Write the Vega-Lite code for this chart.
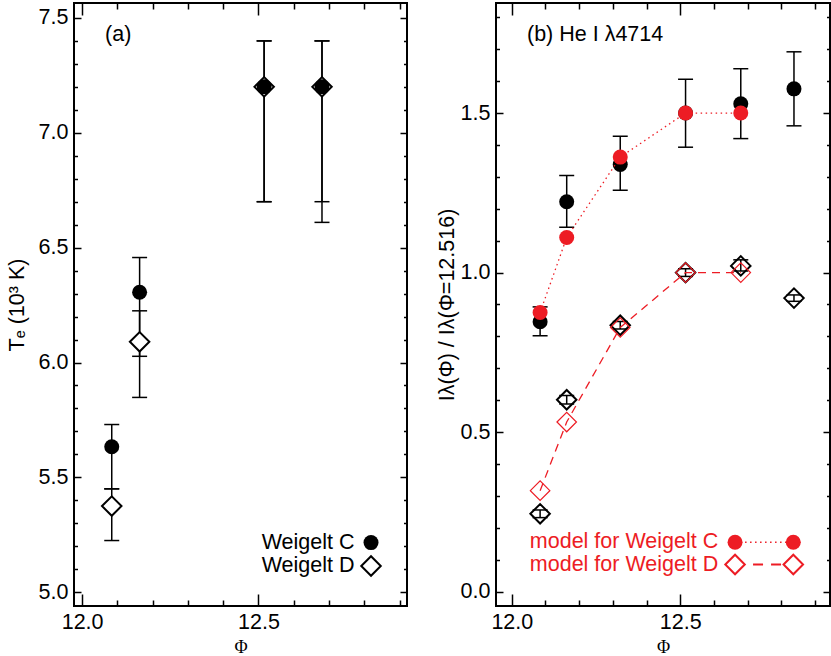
{
  "$schema": "https://vega.github.io/schema/vega-lite/v6.json",
  "padding": {"left": 5, "top": 1, "right": 0, "bottom": 0},
  "background": "white",
  "spacing": 26,
  "datasets": {
    "aobs": [
      {"phi": 12.084, "series": "C", "val": 5.633, "lo": 5.45, "hi": 5.73},
      {"phi": 12.084, "series": "D", "val": 5.375, "lo": 5.225, "hi": 5.45},
      {"phi": 12.163, "series": "C", "val": 6.306, "lo": 6.027, "hi": 6.457},
      {"phi": 12.163, "series": "D", "val": 6.09, "lo": 5.848, "hi": 6.225},
      {"phi": 12.516, "series": "C", "val": 7.2, "lo": 6.7, "hi": 7.4},
      {"phi": 12.516, "series": "D", "val": 7.2, "lo": 6.7, "hi": 7.4},
      {"phi": 12.68, "series": "C", "val": 7.2, "lo": 6.7, "hi": 7.4},
      {"phi": 12.68, "series": "D", "val": 7.2, "lo": 6.61, "hi": 7.4}
    ],
    "bobs": [
      {"phi": 12.084, "series": "C", "val": 0.846, "lo": 0.802, "hi": 0.8925},
      {"phi": 12.163, "series": "C", "val": 1.222, "lo": 1.142, "hi": 1.304},
      {"phi": 12.322, "series": "C", "val": 1.339, "lo": 1.258, "hi": 1.427},
      {"phi": 12.516, "series": "C", "val": 1.5, "lo": 1.393, "hi": 1.606},
      {"phi": 12.68, "series": "C", "val": 1.529, "lo": 1.42, "hi": 1.639},
      {"phi": 12.838, "series": "C", "val": 1.576, "lo": 1.46, "hi": 1.692},
      {"phi": 12.084, "series": "D", "val": 0.244, "lo": 0.232, "hi": 0.256},
      {"phi": 12.163, "series": "D", "val": 0.6015, "lo": 0.588, "hi": 0.615},
      {"phi": 12.322, "series": "D", "val": 0.835, "lo": 0.823, "hi": 0.847},
      {"phi": 12.516, "series": "D", "val": 1.0, "lo": 0.988, "hi": 1.012},
      {"phi": 12.68, "series": "D", "val": 1.021, "lo": 1.005, "hi": 1.04},
      {"phi": 12.838, "series": "D", "val": 0.92, "lo": 0.91, "hi": 0.93}
    ],
    "bmod": [
      {"phi": 12.084, "series": "C", "val": 0.875},
      {"phi": 12.163, "series": "C", "val": 1.11},
      {"phi": 12.322, "series": "C", "val": 1.362},
      {"phi": 12.516, "series": "C", "val": 1.5},
      {"phi": 12.68, "series": "C", "val": 1.5},
      {"phi": 12.084, "series": "D", "val": 0.3165},
      {"phi": 12.163, "series": "D", "val": 0.5316},
      {"phi": 12.322, "series": "D", "val": 0.828},
      {"phi": 12.516, "series": "D", "val": 1.0},
      {"phi": 12.68, "series": "D", "val": 1.0}
    ],
    "one": [{}]
  },
  "hconcat": [
    {
      "width": 333,
      "height": 603,
      "layer": [
        {
          "data": {"name": "aobs"},
          "mark": {"type": "rule", "color": "black", "strokeWidth": 1.5},
          "encoding": {
            "x": {"field": "phi", "type": "quantitative", "scale": {"domain": [11.977, 12.921], "nice": false, "zero": false},
              "axis": {"orient": "bottom", "values": [12.0, 12.1, 12.2, 12.3, 12.4, 12.5, 12.6, 12.7, 12.8, 12.9],
                "tickSize": {"condition": {"test": "abs(datum.value*2-round(datum.value*2))<1e-6", "value": -12}, "value": -6},
                "labelExpr": "abs(datum.value*2-round(datum.value*2))<1e-6 ? format(datum.value,'.1f') : ''",
                "labelPadding": 17, "title": "Φ", "titleFont": "Liberation Serif", "titleFontSize": 18, "titlePadding": 0}},
            "y": {"field": "lo", "type": "quantitative", "scale": {"domain": [4.94, 7.565], "nice": false, "zero": false},
              "axis": {"orient": "left", "values": [5.0, 5.1, 5.2, 5.3, 5.4, 5.5, 5.6, 5.7, 5.8, 5.9, 6.0, 6.1, 6.2, 6.3, 6.4, 6.5, 6.6, 6.7, 6.8, 6.9, 7.0, 7.1, 7.2, 7.3, 7.4, 7.5],
                "tickSize": {"condition": {"test": "abs(datum.value*2-round(datum.value*2))<1e-6", "value": -7}, "value": -3.5},
                "labelExpr": "abs(datum.value*2-round(datum.value*2))<1e-6 ? format(datum.value,'.1f') : ''",
                "labelPadding": 13, "title": "Tₑ (10³ K)", "titlePadding": 10}},
            "y2": {"field": "hi"}
          }
        },
        {
          "data": {"name": "aobs"},
          "mark": {"type": "tick", "orient": "horizontal", "color": "black", "size": 15, "thickness": 1.5, "opacity": 1},
          "encoding": {
            "x": {"field": "phi", "type": "quantitative",
              "axis": {"orient": "top", "values": [12.0, 12.1, 12.2, 12.3, 12.4, 12.5, 12.6, 12.7, 12.8, 12.9],
                "tickSize": {"condition": {"test": "abs(datum.value*2-round(datum.value*2))<1e-6", "value": -12}, "value": -6},
                "labels": false, "title": null}},
            "y": {"field": "lo", "type": "quantitative",
              "axis": {"orient": "right", "values": [5.0, 5.1, 5.2, 5.3, 5.4, 5.5, 5.6, 5.7, 5.8, 5.9, 6.0, 6.1, 6.2, 6.3, 6.4, 6.5, 6.6, 6.7, 6.8, 6.9, 7.0, 7.1, 7.2, 7.3, 7.4, 7.5],
                "tickSize": {"condition": {"test": "abs(datum.value*2-round(datum.value*2))<1e-6", "value": -7}, "value": -3.5},
                "labels": false, "title": null}}
          }
        },
        {
          "data": {"name": "aobs"},
          "mark": {"type": "tick", "orient": "horizontal", "color": "black", "size": 15, "thickness": 1.5, "opacity": 1},
          "encoding": {
            "x": {"field": "phi", "type": "quantitative", "axis": null},
            "y": {"field": "hi", "type": "quantitative", "axis": null}
          }
        },
        {
          "data": {"name": "aobs"},
          "transform": [{"filter": "datum.series === 'D'"}],
          "mark": {"type": "point", "shape": "diamond", "size": 380, "filled": true, "fill": "white", "stroke": "black", "strokeWidth": 2, "opacity": 1},
          "encoding": {
            "x": {"field": "phi", "type": "quantitative", "axis": null},
            "y": {"field": "val", "type": "quantitative", "axis": null}
          }
        },
        {
          "data": {"name": "aobs"},
          "transform": [{"filter": "datum.series === 'C'"}],
          "mark": {"type": "point", "shape": "circle", "size": 225, "filled": true, "color": "black", "opacity": 1},
          "encoding": {
            "x": {"field": "phi", "type": "quantitative", "axis": null},
            "y": {"field": "val", "type": "quantitative", "axis": null}
          }
        },
        {
          "data": {"name": "one"},
          "mark": {"type": "text", "align": "left", "baseline": "middle", "fontSize": 21.5, "font": "Liberation Sans", "color": "black"},
          "encoding": {
            "x": {"datum": 12.065, "type": "quantitative", "axis": null},
            "y": {"datum": 7.426, "type": "quantitative", "axis": null},
            "text": {"value": "(a)"}
          }
        },
        {
          "data": {"name": "one"},
          "mark": {"type": "text", "align": "right", "baseline": "middle", "fontSize": 21.5, "font": "Liberation Sans", "color": "black"},
          "encoding": {
            "x": {"datum": 12.772, "type": "quantitative", "axis": null},
            "y": {"datum": 5.216, "type": "quantitative", "axis": null},
            "text": {"value": "Weigelt C"}
          }
        },
        {
          "data": {"name": "one"},
          "mark": {"type": "text", "align": "right", "baseline": "middle", "fontSize": 21.5, "font": "Liberation Sans", "color": "black"},
          "encoding": {
            "x": {"datum": 12.772, "type": "quantitative", "axis": null},
            "y": {"datum": 5.114, "type": "quantitative", "axis": null},
            "text": {"value": "Weigelt D"}
          }
        },
        {
          "data": {"name": "one"},
          "mark": {"type": "point", "shape": "circle", "size": 225, "filled": true, "color": "black", "opacity": 1},
          "encoding": {
            "x": {"datum": 12.819, "type": "quantitative", "axis": null},
            "y": {"datum": 5.216, "type": "quantitative", "axis": null}
          }
        },
        {
          "data": {"name": "one"},
          "mark": {"type": "point", "shape": "diamond", "size": 380, "filled": true, "fill": "white", "stroke": "black", "strokeWidth": 2, "opacity": 1},
          "encoding": {
            "x": {"datum": 12.819, "type": "quantitative", "axis": null},
            "y": {"datum": 5.114, "type": "quantitative", "axis": null}
          }
        }
      ]
    },
    {
      "width": 334,
      "height": 603,
      "layer": [
        {
          "data": {"name": "bobs"},
          "mark": {"type": "rule", "color": "black", "strokeWidth": 1.5},
          "encoding": {
            "x": {"field": "phi", "type": "quantitative", "scale": {"domain": [11.953, 12.945], "nice": false, "zero": false},
              "axis": {"orient": "bottom", "values": [12.0, 12.1, 12.2, 12.3, 12.4, 12.5, 12.6, 12.7, 12.8, 12.9],
                "tickSize": {"condition": {"test": "abs(datum.value*2-round(datum.value*2))<1e-6", "value": -12}, "value": -6},
                "labelExpr": "abs(datum.value*2-round(datum.value*2))<1e-6 ? format(datum.value,'.1f') : ''",
                "labelPadding": 17, "title": "Φ", "titleFont": "Liberation Serif", "titleFontSize": 18, "titlePadding": 0}},
            "y": {"field": "lo", "type": "quantitative", "scale": {"domain": [-0.045, 1.845], "nice": false, "zero": false},
              "axis": {"orient": "left", "values": [0.0, 0.1, 0.2, 0.3, 0.4, 0.5, 0.6, 0.7, 0.8, 0.9, 1.0, 1.1, 1.2, 1.3, 1.4, 1.5, 1.6, 1.7, 1.8],
                "tickSize": {"condition": {"test": "abs(datum.value*2-round(datum.value*2))<1e-6", "value": -7}, "value": -3.5},
                "labelExpr": "abs(datum.value*2-round(datum.value*2))<1e-6 ? format(datum.value,'.1f') : ''",
                "labelPadding": 13, "title": "Iλ(Φ) / Iλ(Φ=12.516)", "titlePadding": 2}},
            "y2": {"field": "hi"}
          }
        },
        {
          "data": {"name": "bobs"},
          "mark": {"type": "tick", "orient": "horizontal", "color": "black", "size": 15, "thickness": 1.5, "opacity": 1},
          "encoding": {
            "x": {"field": "phi", "type": "quantitative",
              "axis": {"orient": "top", "values": [12.0, 12.1, 12.2, 12.3, 12.4, 12.5, 12.6, 12.7, 12.8, 12.9],
                "tickSize": {"condition": {"test": "abs(datum.value*2-round(datum.value*2))<1e-6", "value": -12}, "value": -6},
                "labels": false, "title": null}},
            "y": {"field": "lo", "type": "quantitative",
              "axis": {"orient": "right", "values": [0.0, 0.1, 0.2, 0.3, 0.4, 0.5, 0.6, 0.7, 0.8, 0.9, 1.0, 1.1, 1.2, 1.3, 1.4, 1.5, 1.6, 1.7, 1.8],
                "tickSize": {"condition": {"test": "abs(datum.value*2-round(datum.value*2))<1e-6", "value": -7}, "value": -3.5},
                "labels": false, "title": null}}
          }
        },
        {
          "data": {"name": "bobs"},
          "mark": {"type": "tick", "orient": "horizontal", "color": "black", "size": 15, "thickness": 1.5, "opacity": 1},
          "encoding": {
            "x": {"field": "phi", "type": "quantitative", "axis": null},
            "y": {"field": "hi", "type": "quantitative", "axis": null}
          }
        },
        {
          "data": {"name": "bobs"},
          "transform": [{"filter": "datum.series === 'C'"}],
          "mark": {"type": "point", "shape": "circle", "size": 225, "filled": true, "color": "black", "opacity": 1},
          "encoding": {
            "x": {"field": "phi", "type": "quantitative", "axis": null},
            "y": {"field": "val", "type": "quantitative", "axis": null}
          }
        },
        {
          "data": {"name": "bobs"},
          "transform": [{"filter": "datum.series === 'D'"}],
          "mark": {"type": "point", "shape": "diamond", "size": 380, "filled": false, "stroke": "black", "strokeWidth": 2, "opacity": 1},
          "encoding": {
            "x": {"field": "phi", "type": "quantitative", "axis": null},
            "y": {"field": "val", "type": "quantitative", "axis": null}
          }
        },
        {
          "data": {"name": "bmod"},
          "transform": [{"filter": "datum.series === 'C'"}],
          "mark": {"type": "line", "color": "#ed1c24", "strokeWidth": 1.3, "strokeDash": [1.5, 3.5]},
          "encoding": {
            "x": {"field": "phi", "type": "quantitative", "axis": null},
            "y": {"field": "val", "type": "quantitative", "axis": null}
          }
        },
        {
          "data": {"name": "bmod"},
          "transform": [{"filter": "datum.series === 'D'"}],
          "mark": {"type": "line", "color": "#ed1c24", "strokeWidth": 1.3, "strokeDash": [8, 6]},
          "encoding": {
            "x": {"field": "phi", "type": "quantitative", "axis": null},
            "y": {"field": "val", "type": "quantitative", "axis": null}
          }
        },
        {
          "data": {"name": "bmod"},
          "transform": [{"filter": "datum.series === 'C'"}],
          "mark": {"type": "point", "shape": "circle", "size": 225, "filled": true, "color": "#ed1c24", "opacity": 1},
          "encoding": {
            "x": {"field": "phi", "type": "quantitative", "axis": null},
            "y": {"field": "val", "type": "quantitative", "axis": null}
          }
        },
        {
          "data": {"name": "bmod"},
          "transform": [{"filter": "datum.series === 'D'"}],
          "mark": {"type": "point", "shape": "diamond", "size": 380, "filled": false, "stroke": "#ed1c24", "strokeWidth": 1.2, "opacity": 1},
          "encoding": {
            "x": {"field": "phi", "type": "quantitative", "axis": null},
            "y": {"field": "val", "type": "quantitative", "axis": null}
          }
        },
        {
          "data": {"name": "one"},
          "mark": {"type": "text", "align": "left", "baseline": "middle", "fontSize": 21.5, "font": "Liberation Sans", "color": "black"},
          "encoding": {
            "x": {"datum": 12.045, "type": "quantitative", "axis": null},
            "y": {"datum": 1.744, "type": "quantitative", "axis": null},
            "text": {"value": "(b) He I λ4714"}
          }
        },
        {
          "data": {"name": "one"},
          "mark": {"type": "rule", "color": "#ed1c24", "strokeWidth": 1.5, "strokeDash": [1.5, 3.5]},
          "encoding": {
            "x": {"datum": 12.663, "type": "quantitative", "axis": null},
            "x2": {"datum": 12.836},
            "y": {"datum": 0.155, "type": "quantitative", "axis": null}
          }
        },
        {
          "data": {"name": "one"},
          "mark": {"type": "rule", "color": "#ed1c24", "strokeWidth": 2, "strokeDash": [10, 8]},
          "encoding": {
            "x": {"datum": 12.663, "type": "quantitative", "axis": null},
            "x2": {"datum": 12.836},
            "y": {"datum": 0.085, "type": "quantitative", "axis": null}
          }
        },
        {
          "data": {"name": "one"},
          "mark": {"type": "text", "align": "right", "baseline": "middle", "fontSize": 21.5, "font": "Liberation Sans", "color": "#ed1c24"},
          "encoding": {
            "x": {"datum": 12.613, "type": "quantitative", "axis": null},
            "y": {"datum": 0.155, "type": "quantitative", "axis": null},
            "text": {"value": "model for Weigelt C"}
          }
        },
        {
          "data": {"name": "one"},
          "mark": {"type": "text", "align": "right", "baseline": "middle", "fontSize": 21.5, "font": "Liberation Sans", "color": "#ed1c24"},
          "encoding": {
            "x": {"datum": 12.613, "type": "quantitative", "axis": null},
            "y": {"datum": 0.085, "type": "quantitative", "axis": null},
            "text": {"value": "model for Weigelt D"}
          }
        },
        {
          "data": {"name": "one"},
          "mark": {"type": "point", "shape": "circle", "size": 225, "filled": true, "color": "#ed1c24", "opacity": 1},
          "encoding": {
            "x": {"datum": 12.663, "type": "quantitative", "axis": null},
            "y": {"datum": 0.155, "type": "quantitative", "axis": null}
          }
        },
        {
          "data": {"name": "one"},
          "mark": {"type": "point", "shape": "circle", "size": 225, "filled": true, "color": "#ed1c24", "opacity": 1},
          "encoding": {
            "x": {"datum": 12.836, "type": "quantitative", "axis": null},
            "y": {"datum": 0.155, "type": "quantitative", "axis": null}
          }
        },
        {
          "data": {"name": "one"},
          "mark": {"type": "point", "shape": "diamond", "size": 380, "filled": true, "fill": "white", "stroke": "#ed1c24", "strokeWidth": 2, "opacity": 1},
          "encoding": {
            "x": {"datum": 12.663, "type": "quantitative", "axis": null},
            "y": {"datum": 0.085, "type": "quantitative", "axis": null}
          }
        },
        {
          "data": {"name": "one"},
          "mark": {"type": "point", "shape": "diamond", "size": 380, "filled": true, "fill": "white", "stroke": "#ed1c24", "strokeWidth": 2, "opacity": 1},
          "encoding": {
            "x": {"datum": 12.836, "type": "quantitative", "axis": null},
            "y": {"datum": 0.085, "type": "quantitative", "axis": null}
          }
        }
      ]
    }
  ],
  "config": {
    "view": {"stroke": "black", "strokeWidth": 2},
    "font": "Liberation Sans",
    "axis": {
      "grid": false, "domain": false, "tickColor": "black", "tickWidth": 1.5,
      "labelColor": "black", "labelFont": "Liberation Sans", "labelFontSize": 21.5,
      "titleFont": "Liberation Sans", "titleFontSize": 21.5, "titleFontWeight": "normal", "titleColor": "black",
      "labelFlush": false, "labelOverlap": false
    }
  }
}
